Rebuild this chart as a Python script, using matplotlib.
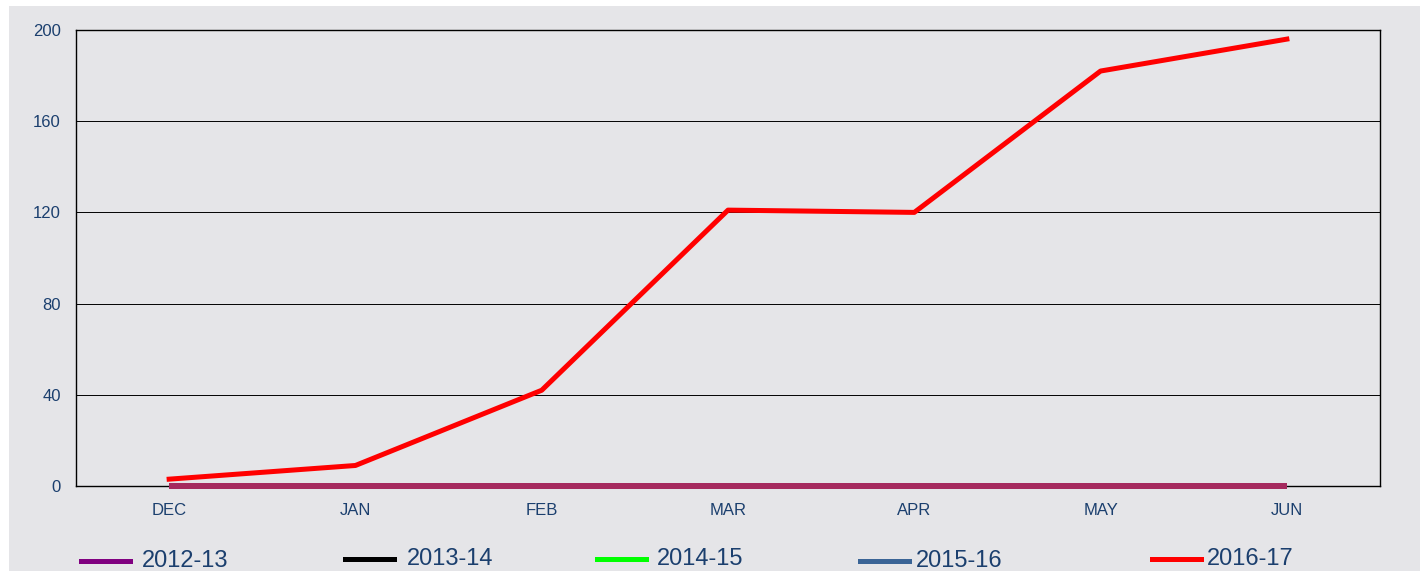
import matplotlib.pyplot as plt
from matplotlib.patches import Rectangle
from matplotlib.lines import Line2D

months = ["DEC", "JAN", "FEB", "MAR", "APR", "MAY", "JUN"]
s2012 = [0, 0, 0, 0, 0, 0, 0]
s2013 = [0, 0, 0, 0, 0, 0, 0]
s2014 = [0, 0, 0, 0, 0, 0, 0]
s2015 = [0, 0, 0, 0, 0, 0, 0]
s2016 = [3, 9, 42, 121, 120, 182, 196]
labels = ["2012-13", "2013-14", "2014-15", "2015-16", "2016-17"]
colors = ["#800080", "#000000", "#00ff00", "#3a6496", "#ff0000"]
yticks = [0, 40, 80, 120, 160, 200]

txt = "#1b3f6e"
plt.rcParams['font.family'] = ['Liberation Sans', 'DejaVu Sans']

fig = plt.figure(figsize=(14.2, 5.71), dpi=100)
fig.patch.set_facecolor("white")
fig.patches.append(Rectangle((9 / 1420, 0), 1, 565 / 571, transform=fig.transFigure,
                             facecolor="#e5e5e8", edgecolor="none", zorder=-10))

ax = fig.add_axes([76 / 1420, 1 - 486 / 571, (1380 - 76) / 1420, (486 - 30) / 571])
ax.set_facecolor("#e5e5e8")
x = range(len(months))

for s in [s2012, s2013, s2014, s2015]:
    ax.plot(x, s, color="#a52a5e", lw=4.0, solid_capstyle="butt", zorder=3, clip_on=False)
ax.plot(x, s2016, color=colors[4], lw=3.6, zorder=4, clip_on=False)

ax.set_xlim(-0.5, 6.5)
ax.set_ylim(0, 200)
ax.set_yticks(yticks)
ax.set_xticks(list(x))
ax.set_xticklabels(months)
ax.tick_params(length=0, labelsize=12, labelcolor=txt)
ax.tick_params(axis="y", pad=11)
ax.tick_params(axis="x", pad=12)
ax.grid(axis="y", color="black", lw=0.7)
ax.set_axisbelow(True)
for sp in ax.spines.values():
    sp.set_color("black")
    sp.set_linewidth(1.0)

# legend along the bottom
hx = [81, 345, 597, 860, 1152]
tx = [142, 407, 657, 916, 1207]
ty = [561, 559, 559, 561, 559]
for i in range(5):
    yy = 1 - ty[i] / 571
    fig.add_artist(Line2D([hx[i] / 1420, (hx[i] + 49) / 1420], [yy, yy],
                          transform=fig.transFigure, color=colors[i], lw=3.6))
    fig.text(tx[i] / 1420, yy, labels[i], color=txt, fontsize=17, va="center", ha="left")

fig.savefig("out.png", dpi=100)
